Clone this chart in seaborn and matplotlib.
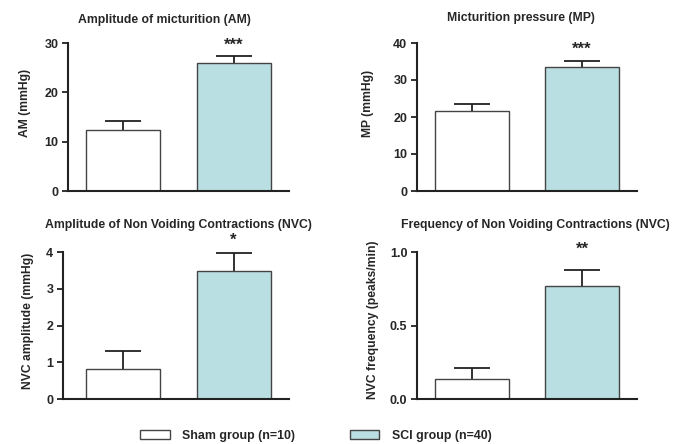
import matplotlib
matplotlib.use('Agg')
import matplotlib.pyplot as plt
import seaborn as sns
from matplotlib.patches import Patch

sns.set_style('ticks')
plt.rcParams['font.family'] = ['Liberation Sans', 'DejaVu Sans']
plt.rcParams['font.weight'] = 'bold'

groups = ['Sham', 'SCI']
legend_labels = ['Sham group (n=10)', 'SCI group (n=40)']
bar_colors = ['#ffffff', '#b9dfe2']

am_mean = [12.3, 26.0]
am_sem = [1.8, 1.4]
mp_mean = [21.5, 33.6]
mp_sem = [1.9, 1.4]
nvc_amp_mean = [0.82, 3.49]
nvc_amp_sem = [0.48, 0.49]
nvc_freq_mean = [0.135, 0.77]
nvc_freq_sem = [0.075, 0.11]

titles = ['Amplitude of micturition (AM)', 'Micturition pressure (MP)',
          'Amplitude of Non Voiding Contractions (NVC)', 'Frequency of Non Voiding Contractions (NVC)']
ylabels = ['AM (mmHg)', 'MP (mmHg)', 'NVC amplitude (mmHg)', 'NVC frequency (peaks/min)']
yticks = [[0, 10, 20, 30], [0, 10, 20, 30, 40], [0, 1, 2, 3, 4], [0.0, 0.5, 1.0]]
ytick_labels = [['0', '10', '20', '30'], ['0', '10', '20', '30', '40'],
                ['0', '1', '2', '3', '4'], ['0.0', '0.5', '1.0']]
stars = ['***', '***', '*', '**']
star_y = [29.6, 38.4, 4.32, 1.02]

W, H = 694, 444
fig = plt.figure(figsize=(W / 100, H / 100), dpi=100)

# axes boxes in pixels: left, right, top, bottom
boxes = [(68, 289, 43, 191), (417, 637, 43, 191), (63, 289, 252, 399), (417, 637, 252, 399)]
xlims = [(-0.5, 1.5), (-0.5, 1.5), (-0.54, 1.5), (-0.5, 1.5)]
title_pos = [(164, 20), (521, 18), (178, 225), (535, 225)]
ylabel_pos = [(25, 103), (368, 103), (28, 321), (373, 320)]

means = [am_mean, mp_mean, nvc_amp_mean, nvc_freq_mean]
sems = [am_sem, mp_sem, nvc_amp_sem, nvc_freq_sem]

for i in range(4):
    l, r, t, b = boxes[i]
    ax = fig.add_axes([l / W, 1 - b / H, (r - l) / W, (b - t) / H])
    sns.barplot(x=groups, y=means[i], hue=groups, palette=bar_colors, legend=False, saturation=1,
                width=0.667, edgecolor='#444444', linewidth=1.0, errorbar=None, ax=ax, zorder=2)
    eb = ax.errorbar([0, 1], means[i], yerr=[[0, 0], sems[i]], fmt='none', ecolor='#222222',
                     elinewidth=1.3, capsize=13, capthick=1.3, zorder=1)
    # only keep the upper cap (one-sided SEM)
    eb.lines[1][0].set_visible(False)
    ax.set_ylim(0, yticks[i][-1])
    ax.set_xlim(*xlims[i])
    ax.set_yticks(yticks[i])
    ax.set_yticklabels(ytick_labels[i], fontsize=9, fontweight='bold')
    ax.set_xticks([])
    ax.set_xlabel('')
    ax.set_ylabel('')
    for s in ['top', 'right']:
        ax.spines[s].set_visible(False)
    for s in ['left', 'bottom']:
        ax.spines[s].set_linewidth(1.5)
        ax.spines[s].set_color('#222222')
        ax.spines[s].set_zorder(3)
    ax.tick_params(axis='y', length=4, width=1.3, color='#222222', pad=3)
    ax.text(1, star_y[i], stars[i], ha='center', va='center', fontsize=12, fontweight='bold',
            clip_on=False)
    tx, ty = title_pos[i]
    fig.text(tx / W, 1 - ty / H, titles[i], ha='center', va='center', fontsize=8.8, fontweight='bold')
    lx, ly = ylabel_pos[i]
    fig.text(lx / W, 1 - ly / H, ylabels[i], ha='center', va='center', rotation=90,
             fontsize=8.7, fontweight='bold')

handles = [Patch(facecolor=c, edgecolor='#444444', linewidth=1.0) for c in bar_colors]
fig.legend(handles, legend_labels, ncol=2, loc='center', bbox_to_anchor=(316 / W, 1 - 436 / H),
           frameon=False, prop={'size': 8.9, 'weight': 'bold'}, handlelength=2.4, handleheight=0.75,
           columnspacing=4.4, handletextpad=1.0)

fig.savefig('out.png', dpi=100)
